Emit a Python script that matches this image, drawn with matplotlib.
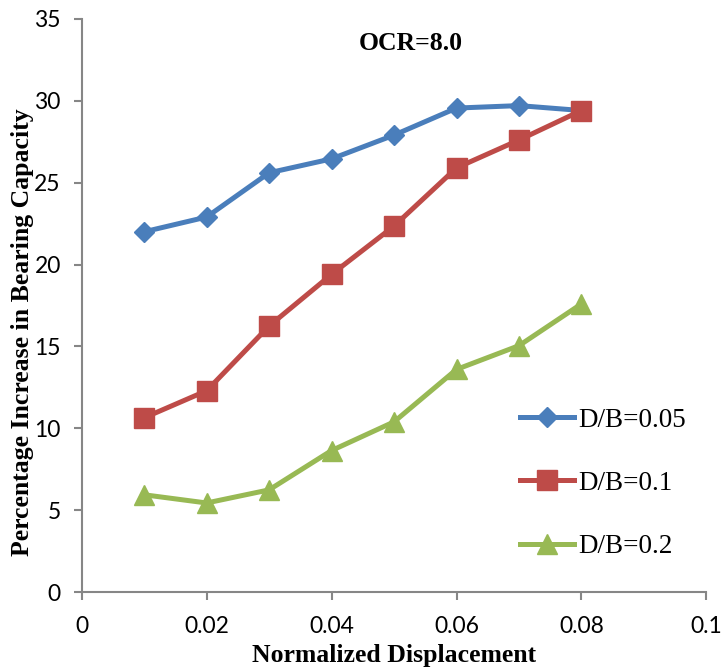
import matplotlib
matplotlib.use("Agg")
import matplotlib.pyplot as plt

x = [0.01, 0.02, 0.03, 0.04, 0.05, 0.06, 0.07, 0.08]
db005 = [22.0, 22.9, 25.6, 26.45, 27.9, 29.55, 29.7, 29.4]
db01 = [10.65, 12.3, 16.25, 19.4, 22.35, 25.9, 27.6, 29.4]
db02 = [5.95, 5.45, 6.25, 8.65, 10.4, 13.6, 15.05, 17.6]
labels = ["D/B=0.05", "D/B=0.1", "D/B=0.2"]
xticks = [0, 0.02, 0.04, 0.06, 0.08, 0.1]
xticklabels = ["0", "0.02", "0.04", "0.06", "0.08", "0.1"]
yticks = [0, 5, 10, 15, 20, 25, 30, 35]

fig = plt.figure(figsize=(7.23, 6.70), dpi=100)
ax = fig.add_axes([0.113, 0.116, 0.864, 0.856])

ax.plot(x, db005, color="#4A7EBB", lw=3.6, marker="D", ms=10.5, label=labels[0])
ax.plot(x, db01, color="#BE4B48", lw=3.6, marker="s", ms=14, label=labels[1])
ax.plot(x, db02, color="#98B954", lw=3.6, marker="^", ms=14, label=labels[2])

ax.set_xlim(0, 0.1)
ax.set_ylim(0, 35)
ax.set_xticks(xticks)
ax.set_xticklabels(xticklabels)
ax.set_yticks(yticks)

for s in ["top", "right"]:
    ax.spines[s].set_visible(False)
for s in ["left", "bottom"]:
    ax.spines[s].set_color("#868686")
    ax.spines[s].set_linewidth(1.5)
ax.tick_params(axis="both", colors="#868686", length=6, width=1.5, direction="out",
               labelcolor="black", labelsize=16.5)
ax.tick_params(axis="x", pad=11)
ax.tick_params(axis="y", pad=9)
for lab in ax.get_xticklabels() + ax.get_yticklabels():
    lab.set_family("Lato")

ax.set_xlabel("Normalized Displacement", family="Liberation Serif", fontweight="bold",
              fontsize=18.5)
ax.xaxis.set_label_coords(0.5, -0.09)
ax.set_ylabel("Percentage Increase in Bearing Capacity", family="Liberation Serif",
              fontweight="bold", fontsize=18.5)
ax.yaxis.set_label_coords(-0.076, 0.454)
ax.text(0.526, 0.957, "OCR=8.0", transform=ax.transAxes, ha="center", va="center",
        family="Liberation Serif", fontweight="bold", fontsize=18.5)

leg = ax.legend(loc="center left", bbox_to_anchor=(0.663, 0.19), frameon=False,
                prop={"family": "Liberation Serif", "size": 19.5}, labelspacing=1.41,
                handlelength=2.0, handletextpad=0.15)

fig.savefig("out.png", dpi=100)
